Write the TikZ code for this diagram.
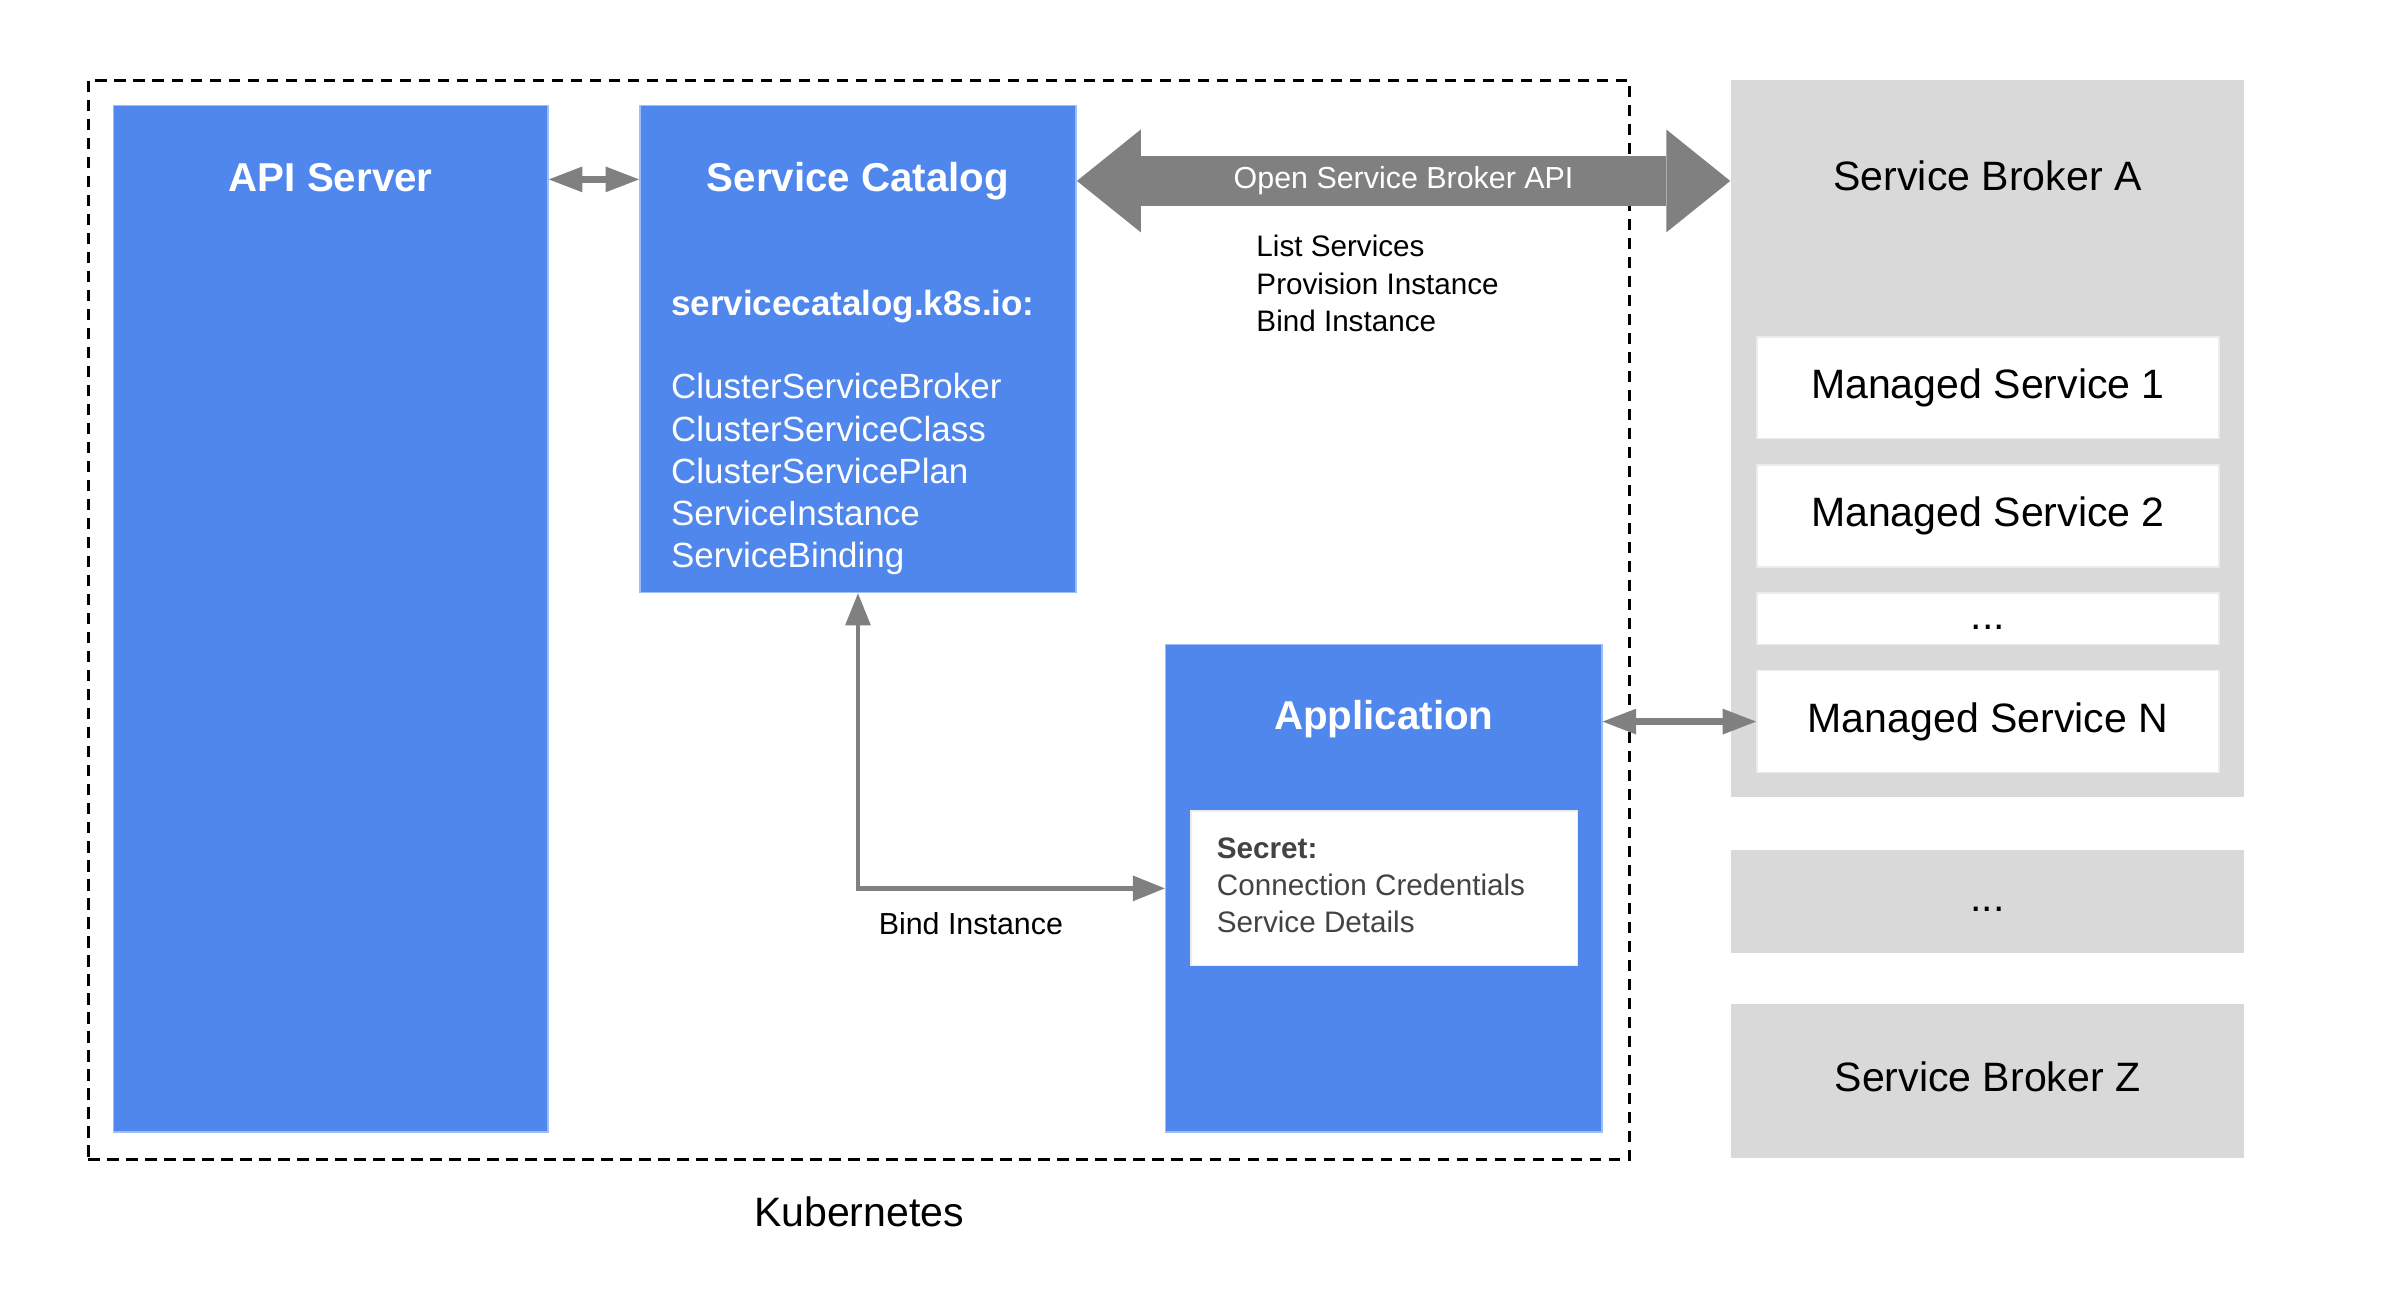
\documentclass[tikz,border=0pt]{standalone}
\usepackage{fontspec}
\setmainfont{Liberation Sans}
\usetikzlibrary{arrows.meta,positioning}

\definecolor{boxblue}{RGB}{80,135,236}
\definecolor{boxgray}{RGB}{217,217,217}
\definecolor{arrowgray}{RGB}{128,128,128}
\definecolor{textgray}{RGB}{67,67,67}

\begin{document}
\begin{tikzpicture}[x=0.5pt,y=-0.5pt,
	blue box/.style={rectangle,fill=boxblue,draw=boxblue!55!white,line width=0.5pt,anchor=north west,inner sep=0pt},
	gray box/.style={rectangle,fill=boxgray,anchor=north west,inner sep=0pt,font=\fontsize{13.5}{16}\selectfont,text height=9.8pt,text depth=2.8pt},
	white box/.style={gray box,fill=white,draw=boxgray!50!white,line width=0.5pt},
	box title/.style={anchor=base,text=white,font=\bfseries\fontsize{13.25}{16}\selectfont},
	small text/.style={anchor=base west,align=left,inner sep=0pt,font=\fontsize{9.75}{12.3}\selectfont},
	thin arrow/.style={draw=arrowgray,line width=2.5pt,{Triangle[length=11pt,width=8.5pt,line width=0pt]}-{Triangle[length=11pt,width=8.5pt,line width=0pt]}},
	bind arrow/.style={draw=arrowgray,line width=1.5pt,{Triangle[length=10.5pt,width=8.5pt,line width=0pt]}-{Triangle[length=10.5pt,width=8.5pt,line width=0pt]}},
	osb arrow/.style={draw=arrowgray,line width=16.5pt,{Triangle[length=21pt,width=33.8pt,line width=0pt]}-{Triangle[length=21pt,width=33.8pt,line width=0pt]}}]

	\useasboundingbox (0,0) rectangle (1568,851);

	% kubernetes side
	\node[draw,dashed,dash pattern=on 3.75pt off 2.5pt,line width=1pt,minimum width=507pt,minimum height=354.65pt,anchor=north west,inner sep=0pt] (k8s) at (57,52) {};
	\node[anchor=base,font=\fontsize{13.5}{16}\selectfont] (k8s label) at ([yshift=-21.55pt]k8s.south) {Kubernetes};

	\node[blue box,minimum width=143pt,minimum height=337.45pt] (api) at (74,69) {};
	\node[blue box,minimum width=143.5pt,minimum height=160.15pt] (catalog) at (420.3,69) {};
	\node[blue box,minimum width=143.5pt,minimum height=160.3pt] (app) at (766.1,423.3) {};
	\node[white box,minimum width=127pt,minimum height=50.8pt] (secret) at (783,533) {};

	\node[box title] (api title) at ([yshift=-28.5pt]api.north) {API Server};
	\node[box title] (catalog title) at ([yshift=-28.5pt]catalog.north) {Service Catalog};
	\node[box title] (app title) at ([yshift=-28.35pt]app.north) {Application};

	% base of a multi-line node is its last line
	\node[anchor=base west,align=left,inner sep=0pt,text=white,font=\fontsize{11.5}{13.9}\selectfont] (catalog list) at (441,373.5)
		{\textbf{servicecatalog.k8s.io:}\\[13.4pt]ClusterServiceBroker\\ClusterServiceClass\\ClusterServicePlan\\ServiceInstance\\ServiceBinding};
	\node[small text,text=textgray,font=\fontsize{9.75}{12.05}\selectfont] (secret text) at ([xshift=8.5pt,yshift=-40pt]secret.north west)
		{\textbf{Secret:}\\Connection Credentials\\Service Details};

	% brokers
	\node[gray box,minimum width=168.85pt,minimum height=236pt] (brokerA) at (1138,52) {};
	\node[anchor=base,font=\fontsize{13.5}{16}\selectfont] (brokerA title) at ([yshift=-36.5pt]brokerA.north) {Service Broker A};
	\node[white box,minimum width=152pt,minimum height=33.5pt] (ms1) at (1155,221) {Managed Service 1};
	\node[white box,minimum width=152pt,minimum height=33.5pt] (ms2) at (1155,305.3) {Managed Service 2};
	\node[white box,minimum width=152pt,minimum height=16.85pt] (msdots) at (1155,389.6) {...};
	\node[white box,minimum width=152pt,minimum height=33.5pt] (msN) at (1155,440.6) {Managed Service N};
	\node[gray box,minimum width=168.85pt,minimum height=33.85pt] (brokerdots) at (1138,558.5) {...};
	\node[gray box,minimum width=168.85pt,minimum height=50.65pt] (brokerZ) at (1138,660) {Service Broker Z};

	% connectors
	\coordinate (api link) at ([yshift=-24.5pt]api.north east);
	\coordinate (osb link) at ([yshift=-25pt]catalog.north east);
	\draw[thin arrow] (api link) -- (api link -| catalog.west);
	\draw[osb arrow] (osb link) -- (osb link -| brokerA.west)
		node[midway,text=white,font=\fontsize{10}{12}\selectfont] (osb label) {Open Service Broker API};
	\node[small text] (osb calls) at (826,218.2) {List Services\\Provision Instance\\Bind Instance};
	\draw[bind arrow] (catalog.south) |- (app.west |- secret.west)
		node[pos=0.684,anchor=base,yshift=-15.2pt,font=\fontsize{10}{12}\selectfont] (bind label) {Bind Instance};
	\draw[thin arrow] (app.east |- msN.west) -- (msN.west);

\end{tikzpicture}
\end{document}
